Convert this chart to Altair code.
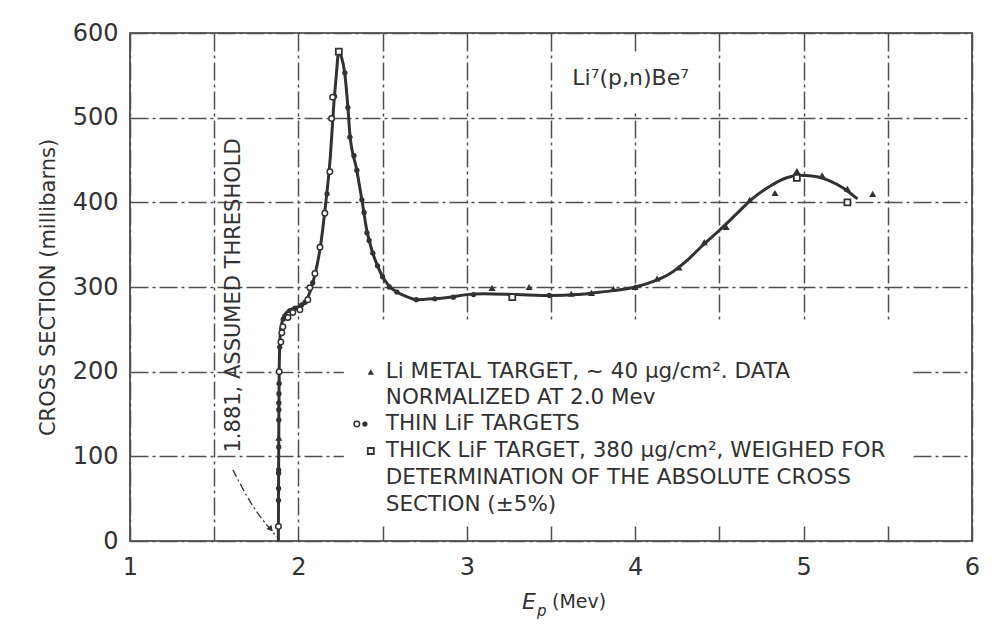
import altair as alt
import pandas as pd

# ---------------- data ----------------
# smooth fitted curve (E_p in MeV, cross section in millibarns)
curve_E = [1.881, 1.8825, 1.884, 1.886, 1.889, 1.894, 1.900, 1.910, 1.930, 1.960,
           2.000, 2.040, 2.070, 2.100, 2.130, 2.160, 2.190, 2.210, 2.225, 2.240,
           2.255, 2.275, 2.294, 2.306, 2.347, 2.377, 2.407, 2.440, 2.470, 2.500,
           2.540, 2.585, 2.650, 2.700, 2.800, 2.900, 3.000, 3.100, 3.300, 3.500,
           3.650, 3.750, 3.880, 4.000, 4.100, 4.200, 4.300, 4.400, 4.500, 4.600,
           4.700, 4.800, 4.900, 4.970, 5.050, 5.120, 5.200, 5.270, 5.320]
curve_s = [0, 80, 150, 200, 230, 248, 256, 263, 270, 274,
           277, 282, 295, 316, 347, 395, 455, 515, 550, 579,
           572, 553, 512, 480, 438, 403, 366, 341, 325, 312,
           301, 294, 288, 285, 286, 288, 291, 292, 291, 290,
           291, 293, 296, 300, 306, 315, 330, 349, 367, 386,
           405, 419, 429, 432, 431, 428, 421, 412, 404]

# Li metal target (triangles)
li_E = [1.8835, 3.15, 3.37, 3.62, 3.74, 3.87, 4.00, 4.13, 4.26, 4.41, 4.54,
        4.68, 4.83, 4.96, 5.11, 5.26, 5.41]
li_s = [122, 299, 300, 292, 293, 298, 300, 310, 323, 353, 371,
        403, 411, 437, 432, 416, 410]

# thin LiF targets, open circles
thin_o_E = [1.8815, 1.886, 1.896, 1.902, 1.908, 1.938, 1.967, 2.009, 2.056, 2.068,
            2.098, 2.128, 2.157, 2.187, 2.197, 2.203]
thin_o_s = [17, 200, 235, 246, 253, 264, 270, 273, 285, 299,
            316, 347, 387, 436, 499, 524]

# thin LiF targets, filled dots
thin_d_E = [1.8819, 1.8822, 1.8825, 1.8826, 1.8831, 1.8836, 1.8838, 1.8840, 1.8845,
            1.8855, 1.889, 1.910, 1.920, 1.950, 1.980, 2.020, 2.040, 2.085, 2.170,
            2.215, 2.276, 2.294, 2.306, 2.330, 2.347, 2.377, 2.390, 2.407, 2.420,
            2.442, 2.470, 2.500, 2.540, 2.585, 2.700, 2.810, 2.920, 3.040, 3.490]
thin_d_s = [48, 62, 80, 84, 111, 143, 155, 163, 174,
            186, 229, 262, 266, 272, 275, 279, 282, 305, 410,
            525, 553, 512, 477, 455, 438, 403, 388, 364, 355,
            340, 325, 312, 300, 294, 285, 286, 288, 291, 290]

# thick LiF target (squares)
thick_E = [2.240, 3.27, 4.96, 5.26]
thick_s = [578, 288, 429, 400]

x_grid = [1.0, 1.5, 2.0, 2.5, 3.0, 3.5, 4.0, 4.5, 5.0, 5.5, 6.0]
y_ticks = [0, 100, 200, 300, 400, 500, 600]

title_text = "Li\u2077(p,n)Be\u2077"
threshold_text = "1.881, ASSUMED THRESHOLD"
legend_lines = [
    "Li METAL TARGET, ~ 40 \u03bcg/cm\u00b2.  DATA",
    "NORMALIZED AT 2.0 Mev",
    "THIN LiF TARGETS",
    "THICK LiF TARGET, 380 \u03bcg/cm\u00b2, WEIGHED FOR",
    "DETERMINATION OF THE ABSOLUTE CROSS",
    "SECTION (\u00b15%)",
]

# arrow from the threshold label to the threshold point
arrow_E = [1.611, 1.694, 1.772, 1.872]
arrow_s = [84, 52, 28, 5]

# ---------------- chart ----------------
INK = "#323232"
FONT = "DejaVu Sans"
W, H = 842, 508
xs = alt.Scale(domain=[1, 6], nice=False, zero=False)
ys = alt.Scale(domain=[0, 600], nice=False)

x_axis = alt.Axis(
    values=x_grid, title=None, ticks=False, domain=False,
    labelExpr="datum.value % 1 == 0 ? format(datum.value, 'd') : ''",
    labelOverlap=False, labelFlush=False,
    labelFont=FONT, labelFontSize=24, labelColor=INK, labelPadding=14,
    grid=True, gridColor="#505050", gridWidth=1.5, gridDash=[18, 4, 3, 4])
y_axis = alt.Axis(
    values=y_ticks, title="CROSS SECTION (millibarns)", ticks=False, domain=False,
    labelFont=FONT, labelFontSize=24, labelColor=INK, labelPadding=12,
    labelOverlap=False, labelFlush=False,
    titleFont=FONT, titleFontSize=21, titleFontWeight="normal", titleColor=INK,
    titlePadding=14,
    grid=True, gridColor="#505050", gridWidth=1.5, gridDash=[18, 4, 3, 4])


def X(field="E"):
    return alt.X(f"{field}:Q", scale=xs, axis=x_axis)


def Y(field="s"):
    return alt.Y(f"{field}:Q", scale=ys, axis=y_axis)


# white boxes behind the title and legend
boxes_df = pd.DataFrame({"E1": [3.56, 2.27], "E2": [4.42, 5.65],
                         "s1": [506, 19], "s2": [577, 258]})
boxes = alt.Chart(boxes_df).mark_rect(color="white").encode(
    x=X("E1"), x2="E2", y=Y("s1"), y2="s2")

curve_df = pd.DataFrame({"E": curve_E, "s": curve_s})
line = alt.Chart(curve_df).mark_line(
    color=INK, strokeWidth=3, interpolate="monotone"
).encode(x=X(), y=Y())

li_pts = alt.Chart(pd.DataFrame({"E": li_E, "s": li_s})).mark_point(
    shape="triangle-up", filled=True, size=50, color=INK, opacity=1
).encode(x=X(), y=Y())

thin_o = alt.Chart(pd.DataFrame({"E": thin_o_E, "s": thin_o_s})).mark_point(
    shape="circle", filled=True, fill="white", stroke=INK, strokeWidth=1.5, size=30, opacity=1
).encode(x=X(), y=Y())

thin_d = alt.Chart(pd.DataFrame({"E": thin_d_E, "s": thin_d_s})).mark_circle(
    size=28, color=INK, opacity=1
).encode(x=X(), y=Y())

thick = alt.Chart(pd.DataFrame({"E": thick_E, "s": thick_s})).mark_point(
    shape="square", filled=True, fill="white", stroke=INK, strokeWidth=1.8, size=36, opacity=1
).encode(x=X(), y=Y())

arrow = alt.Chart(pd.DataFrame({"E": arrow_E, "s": arrow_s, "o": list(range(len(arrow_E)))})).mark_line(
    color=INK, strokeWidth=1.3, strokeDash=[8, 3, 2, 3], interpolate="basis"
).encode(x=X(), y=Y(), order="o:Q")

arrow_head = alt.Chart(pd.DataFrame({"E": [1.836], "s": [14]})).mark_point(
    shape="triangle-up", filled=True, size=45, angle=140, color=INK, opacity=1
).encode(x=X(), y=Y())

title = alt.Chart(pd.DataFrame({"E": [3.973], "s": [547], "t": [title_text]})).mark_text(
    font=FONT, fontSize=22, color=INK, align="center", baseline="middle"
).encode(x=X(), y=Y(), text="t:N")

thr = alt.Chart(pd.DataFrame({"E": [1.617], "s": [290], "t": [threshold_text]})).mark_text(
    font=FONT, fontSize=21, color=INK, align="center", baseline="middle", angle=270
).encode(x=X(), y=Y(), text="t:N")

# legend (annotation positions)
leg_s = [199.5, 168.8, 138.1, 106.3, 74.4, 42.5]
leg_text = alt.Chart(pd.DataFrame({"E": [2.519] * 6, "s": leg_s, "t": legend_lines})).mark_text(
    font=FONT, fontSize=21.5, color=INK, align="left", baseline="middle"
).encode(x=X(), y=Y(), text="t:N")

leg_tri = alt.Chart(pd.DataFrame({"E": [2.430], "s": [199.5]})).mark_point(
    shape="triangle-up", filled=True, size=40, color=INK, opacity=1
).encode(x=X(), y=Y())
leg_o = alt.Chart(pd.DataFrame({"E": [2.347], "s": [138.1]})).mark_point(
    shape="circle", filled=True, fill="white", stroke=INK, strokeWidth=1.5, size=30, opacity=1
).encode(x=X(), y=Y())
leg_d = alt.Chart(pd.DataFrame({"E": [2.395], "s": [138.1]})).mark_circle(
    size=28, color=INK, opacity=1
).encode(x=X(), y=Y())
leg_sq = alt.Chart(pd.DataFrame({"E": [2.430], "s": [106.3]})).mark_point(
    shape="square", filled=True, fill="white", stroke=INK, strokeWidth=1.8, size=36, opacity=1
).encode(x=X(), y=Y())

# x-axis title: E_p (Mev)
xt = pd.DataFrame({"t": ["E"]})
xt_E = alt.Chart(xt).mark_text(text="E", font=FONT, fontSize=22, fontStyle="italic",
                               color=INK, align="left", baseline="middle").encode(
    x=alt.value(392), y=alt.value(569))
xt_p = alt.Chart(xt).mark_text(text="p", font=FONT, fontSize=15, fontStyle="italic",
                               color=INK, align="left", baseline="middle").encode(
    x=alt.value(407), y=alt.value(578))
xt_u = alt.Chart(xt).mark_text(text="(Mev)", font=FONT, fontSize=19,
                               color=INK, align="left", baseline="middle").encode(
    x=alt.value(422), y=alt.value(569))

chart = alt.layer(
    boxes, line, arrow, arrow_head,
    thin_d, thin_o, li_pts, thick, title, thr,
    leg_text, leg_tri, leg_o, leg_d, leg_sq, xt_E, xt_p, xt_u
).properties(
    width=W, height=H,
    autosize=alt.AutoSizeParams(type="none"),
    padding={"left": 130, "top": 33, "right": 23, "bottom": 93},
    background="white",
).configure_view(stroke=INK, strokeWidth=1.6)

chart.save("out.html", embed_options={"renderer": "svg", "actions": False})
